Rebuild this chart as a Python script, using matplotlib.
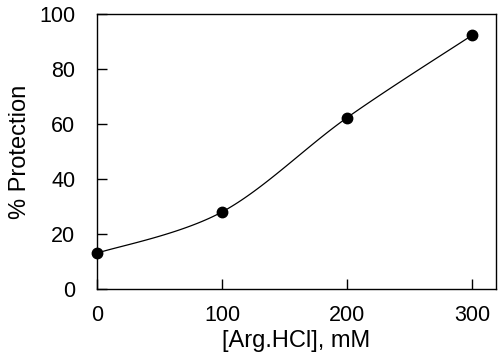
import matplotlib
matplotlib.use("Agg")
import matplotlib.pyplot as plt
import numpy as np

plt.rcParams['font.family'] = ['Liberation Sans', 'DejaVu Sans']

# data
arg_mM = [0, 100, 200, 300]
protection = [13, 28, 62.3, 92.3]


def smooth_curve(xs, ys, n=40):
    """Catmull-Rom style smoothing like a spreadsheet 'smoothed line'"""
    pts = np.column_stack([xs, ys]).astype(float)
    pts = np.vstack([pts[0], pts, pts[-1]])
    out = []
    t = np.linspace(0, 1, n)[:, None]
    for i in range(1, len(pts) - 2):
        p0, p1, p2, p3 = pts[i - 1], pts[i], pts[i + 1], pts[i + 2]
        c1 = p1 + (p2 - p0) / 6
        c2 = p2 - (p3 - p1) / 6
        seg = ((1 - t) ** 3 * p1 + 3 * (1 - t) ** 2 * t * c1
               + 3 * (1 - t) * t ** 2 * c2 + t ** 3 * p2)
        out.append(seg)
    curve = np.vstack(out)
    return curve[:, 0], curve[:, 1]


fig = plt.figure(figsize=(5, 3.58), dpi=100)
ax = fig.add_axes([0.194, 0.193, 0.798, 0.768])

cx, cy = smooth_curve(arg_mM, protection)
ax.plot(cx, cy, color='black', linewidth=0.9, zorder=2)
ax.plot(arg_mM, protection, 'o', color='black', markersize=7.5, zorder=3, clip_on=False)

ax.set_xlim(0, 319)
ax.set_ylim(0, 100)
ax.set_xticks([0, 100, 200, 300])
ax.set_yticks([0, 20, 40, 60, 80, 100])
ax.tick_params(direction='in', length=7, width=1, labelsize=15.5,
               top=False, right=False)
ax.tick_params(axis='x', pad=11.5)
ax.tick_params(axis='y', pad=15.5)
for s in ax.spines.values():
    s.set_linewidth(1)

ax.set_xlabel('[Arg.HCl], mM', fontsize=17, labelpad=3)
ax.set_ylabel('% Protection', fontsize=17, labelpad=6)

fig.savefig('out.png', dpi=100)
